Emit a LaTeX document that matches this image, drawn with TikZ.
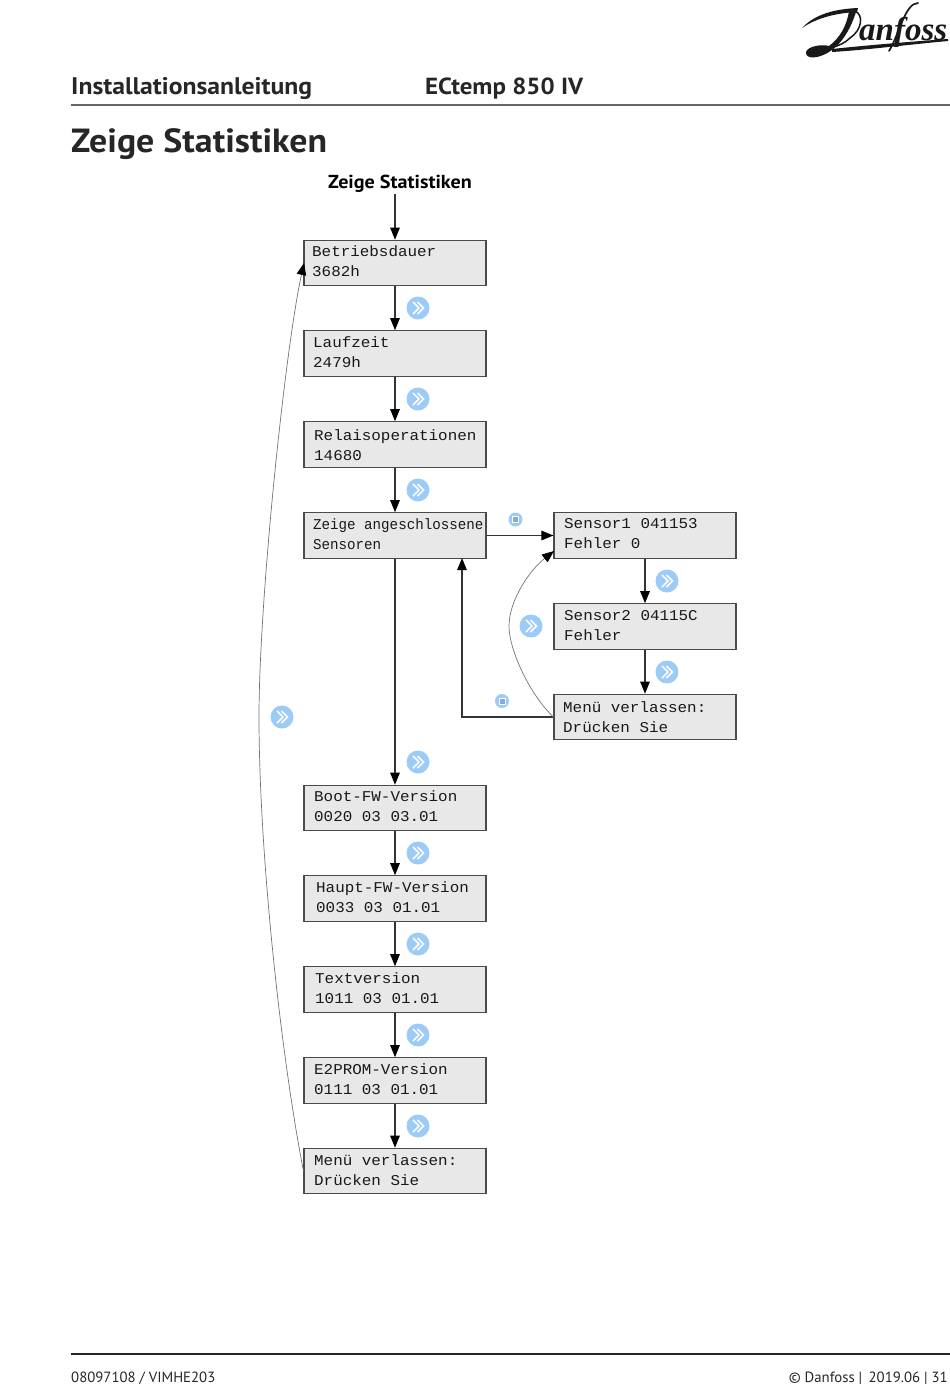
\documentclass[tikz,border=0pt]{standalone}
\usepackage{fontspec}
\setmainfont{PT Sans}
\newfontfamily\headfont[FakeStretch=1.07]{PT Sans}
\newfontfamily\lcdfont[FakeStretch=1.06]{Liberation Mono}
\newfontfamily\lcdnarrow[FakeStretch=0.945]{Liberation Mono}
\newfontfamily\logofont{Liberation Serif}
\usetikzlibrary{arrows.meta}
\definecolor{boxfill}{HTML}{E8E8E8}
\definecolor{boxline}{HTML}{4A4A4A}
\definecolor{iconblue}{HTML}{9CCBF7}
\tikzset{
  x=1pt,y=-1pt,
  lcdbox/.style={draw=boxline,line width=1.1pt,fill=boxfill,minimum width=182pt,minimum height=#1,inner sep=0pt},
  lcdbox/.default=45.5pt,
  lcdtext/.style={anchor=west,align=left,inner sep=0pt,font=\lcdfont\fontsize{15}{19.8}\selectfont,text=black!90},
  flow/.style={draw=black!80,line width=1.05pt,-{Triangle[length=12pt,width=9.5pt,color=black]}},
  thin arc/.style={draw=black!55,line width=.7pt,-{Triangle[length=12pt,width=9.5pt,color=black]}},
  nexticon/.style={circle,fill=iconblue,minimum size=23pt,inner sep=0pt,
    path picture={\draw[white,line width=1.7pt]
      (path picture bounding box.center)++(-5pt,-6pt)--++(6pt,6pt)--++(-6pt,6pt)
      (path picture bounding box.center)++(-.5pt,-6pt)--++(6pt,6pt)--++(-6pt,6pt);}},
  stopicon/.style={circle,fill=iconblue,minimum size=14pt,inner sep=0pt,
    path picture={\draw[white,line width=1pt,fill=iconblue!85!black]
      ([xshift=-3pt,yshift=-3pt]path picture bounding box.center) rectangle ++(6pt,6pt);}},
  headtext/.style={anchor=base west,inner sep=0pt,font=\headfont\bfseries\fontsize{24}{24}\selectfont,text=black!85},
  foottext/.style={inner sep=0pt,font=\fontsize{14.8}{15}\selectfont,text=black!85},
}
\begin{document}
\begin{tikzpicture}
\useasboundingbox (0,0) rectangle (950,1387);
% header
\node[headtext] (h1) at (71,94) {Installationsanleitung};
\node[headtext,font=\headfont\bfseries\fontsize{23.3}{24}\selectfont] (h2) at (425,94) {ECtemp 850 IV};
\draw[draw=black!60,line width=1.2pt] (71,105) -- (950,105);
\node[headtext,font=\headfont\bfseries\fontsize{33.5}{34}\selectfont] (h3) at (71,152) {Zeige Statistiken};
% logo
\fill[black!90] (802,28) .. controls (815,14) and (835,9) .. (858,8)
  -- (857,12) .. controls (838,13) and (818,17) .. (802,28) -- cycle;
\fill[black!90] (857,9) -- (849,11) .. controls (847,25) and (840,38) .. (829,46)
  .. controls (822,44) and (808,46) .. (806,52)
  .. controls (805,60) and (820,59) .. (832,50)
  .. controls (845,40) and (852,25) .. (857,9) -- cycle;
\draw[black!90,line width=1.5pt] (855,11) .. controls (864,15) and (862,30) .. (850,38)
  .. controls (845,43) and (838,46) .. (833,47);
\fill[black!90] (832,49) .. controls (860,46) and (905,42) .. (948,39)
  -- (948,41) .. controls (905,45) and (865,50) .. (832,52) -- cycle;
\draw[black!90,line width=1.7pt,line cap=round] (889,51) .. controls (899,35) and (905,3) .. (918,3);
\node[inner sep=0pt,anchor=base west,font=\logofont\bfseries\itshape\fontsize{33}{33}\selectfont,text=black!90] (logo) at (859,40) {anfoss};
% title
\node[inner sep=0pt,font=\headfont\bfseries\fontsize{18.8}{19}\selectfont,text=black] (title) at (400,184) {Zeige Statistiken};
% boxes
\node[lcdbox] (b1) at (395,263) {};
\node[lcdbox] (b2) at (395,353.5) {};
\node[lcdbox] (b3) at (395,444.5) {};
\node[lcdbox] (b4) at (395,535.5) {};
\node[lcdbox] (s1) at (645,535.5) {};
\node[lcdbox] (s2) at (645,626.5) {};
\node[lcdbox] (s3) at (645,717) {};
\node[lcdbox] (b5) at (395,808) {};
\node[lcdbox] (b6) at (395,898.5) {};
\node[lcdbox] (b7) at (395,989.5) {};
\node[lcdbox] (b8) at (395,1080.5) {};
\node[lcdbox] (b9) at (395,1171) {};
% texts
\node[lcdtext] (t1) at (312,261) {Betriebsdauer\\3682h};
\node[lcdtext] (t2) at (313,352) {Laufzeit\\2479h};
\node[lcdtext] (t3) at (314,445) {Relaisoperationen\\14680};
\node[lcdtext,font=\lcdnarrow\fontsize{15}{19.8}\selectfont] (t4) at (313,534.5) {Zeige angeschlossene\\Sensoren};
\node[lcdtext] (t5) at (564,533.5) {Sensor1 041153\\Fehler 0};
\node[lcdtext] (t6) at (564,625.5) {Sensor2 04115C\\Fehler};
\node[lcdtext] (t7) at (563,717) {Menü verlassen:\\Drücken Sie};
\node[lcdtext] (t8) at (314,806.5) {Boot-FW-Version\\0020 03 03.01};
\node[lcdtext] (t9) at (316,897.5) {Haupt-FW-Version\\0033 03 01.01};
\node[lcdtext] (t10) at (315,988.5) {Textversion\\1011 03 01.01};
\node[lcdtext] (t11) at (314,1079.5) {E2PROM-Version\\0111 03 01.01};
\node[lcdtext] (t12) at (314,1170) {Menü verlassen:\\Drücken Sie};
% connectors
\coordinate (tb) at (395,194);
\coordinate (ret) at (462,558);
\draw[flow] (tb) -- (b1.north);
\draw[flow] (b1) -- (b2);
\draw[flow] (b2) -- (b3);
\draw[flow] (b3) -- (b4);
\draw[flow] (b4) -- (b5);
\draw[flow] (b5) -- (b6);
\draw[flow] (b6) -- (b7);
\draw[flow] (b7) -- (b8);
\draw[flow] (b8) -- (b9);
\draw[flow] (b4) -- (s1);
\draw[flow] (s1) -- (s2);
\draw[flow] (s2) -- (s3);
\draw[flow] (s3.west) -| (ret);
\draw[thin arc] (s3.west) .. controls (530,695) and (509,650) .. (509,626)
  .. controls (509,600) and (530,570) .. (554,551);
\draw[thin arc] (b9.west) .. controls (280,1050) and (259,850) .. (259,717)
  .. controls (259,600) and (285,350) .. (304,263);
% icons
\foreach \n/\x/\y in {i1/418/308,i2/418/399,i3/418/490,i4/667/581,i5/667/672,i6/531/626,i7/282/717,i8/418/762,i9/418/853,i10/418/944,i11/418/1035,i12/418/1126}
  \node[nexticon] (\n) at (\x,\y) {};
\node[stopicon] (q1) at (515.5,519.5) {};
\node[stopicon] (q2) at (502,701) {};
% footer
\draw[draw=black!85,line width=1.2pt] (71,1354) -- (950,1354);
\node[foottext,anchor=base west] (f1) at (71,1382) {08097108 / VIMHE203};
\node[foottext,anchor=base east] (f2) at (948,1382) {© Danfoss | \,2019.06 | 31};
\end{tikzpicture}
\end{document}
